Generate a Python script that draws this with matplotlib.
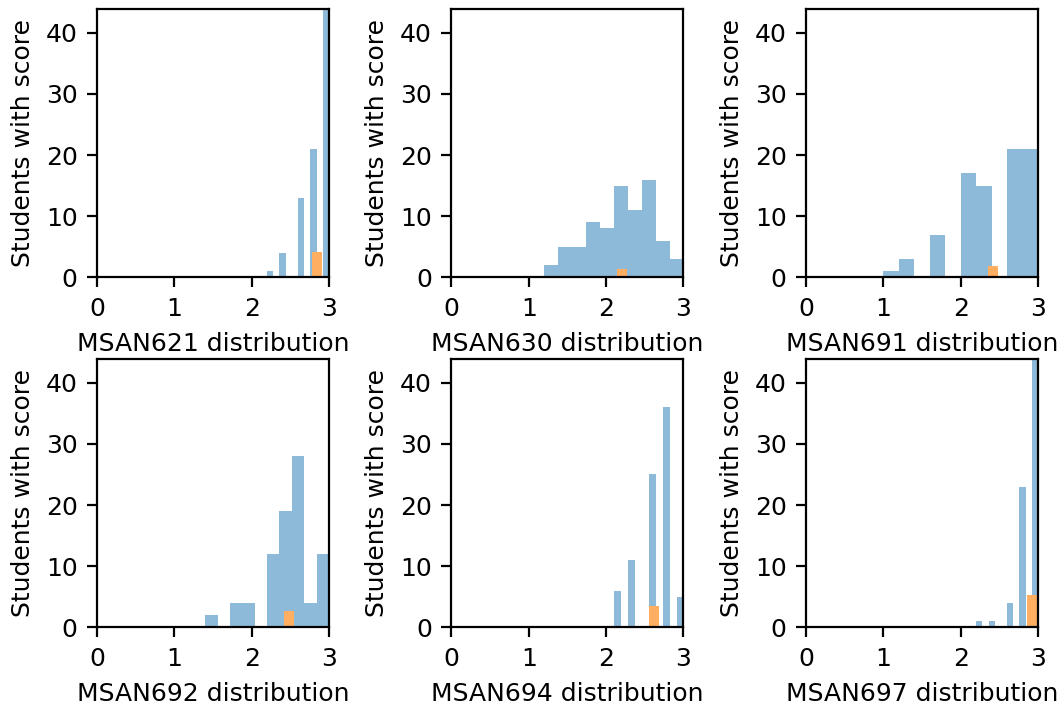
import numpy as np
import matplotlib
matplotlib.use("Agg")
import matplotlib.pyplot as plt

# course names shown under each panel
courses = ["MSAN621", "MSAN630", "MSAN691", "MSAN692", "MSAN694", "MSAN697"]

# histogram range (lo, hi) per course, 10 bins each
bin_lo = [2.2, 1.2, 1.0, 1.4, 2.1, 2.2]
bin_hi = [3.0, 3.0, 3.0, 3.0, 3.0, 3.0]

# student counts per bin
counts_621 = [1, 0, 4, 0, 0, 13, 0, 21, 0, 45]
counts_630 = [2, 5, 5, 9, 8, 15, 11, 16, 6, 3]
counts_691 = [1, 3, 0, 7, 0, 17, 15, 0, 21, 21]
counts_692 = [2, 0, 4, 4, 0, 12, 19, 28, 4, 12]
counts_694 = [6, 0, 11, 0, 0, 25, 0, 36, 0, 5]
counts_697 = [1, 0, 1, 0, 0, 4, 0, 23, 0, 55]
all_counts = [counts_621, counts_630, counts_691, counts_692, counts_694, counts_697]

# the highlighted student's score and marker height
my_score = [2.845, 2.21, 2.415, 2.485, 2.62, 2.92]
my_height = [4.2, 1.4, 1.9, 2.6, 3.55, 5.3]

plt.rcParams['font.size'] = 9

fig, axes = plt.subplots(2, 3, figsize=(5.31, 3.525), dpi=200)
fig.subplots_adjust(left=0.0913, right=0.9774, bottom=0.1102, top=0.9872,
                    wspace=0.528, hspace=0.304)

for i, ax in enumerate(axes.flat):
    edges = np.linspace(bin_lo[i], bin_hi[i], len(all_counts[i]) + 1)
    widths = np.diff(edges)
    ax.bar(edges[:-1], all_counts[i], width=widths, align='edge',
           color='C0', alpha=0.5, linewidth=0)
    # student marker, drawn opaque on top
    ax.bar(my_score[i], my_height[i], width=0.13, color='#ffae62',
           linewidth=0)
    ax.set_xlim(0, 3)
    ax.set_ylim(0, 43.9)
    ax.set_xticks([0, 1, 2, 3])
    ax.set_yticks([0, 10, 20, 30, 40])
    ax.set_xlabel(courses[i] + " distribution")
    ax.set_ylabel("Students with score")

plt.savefig("out.png", dpi=200)
plt.close(fig)
